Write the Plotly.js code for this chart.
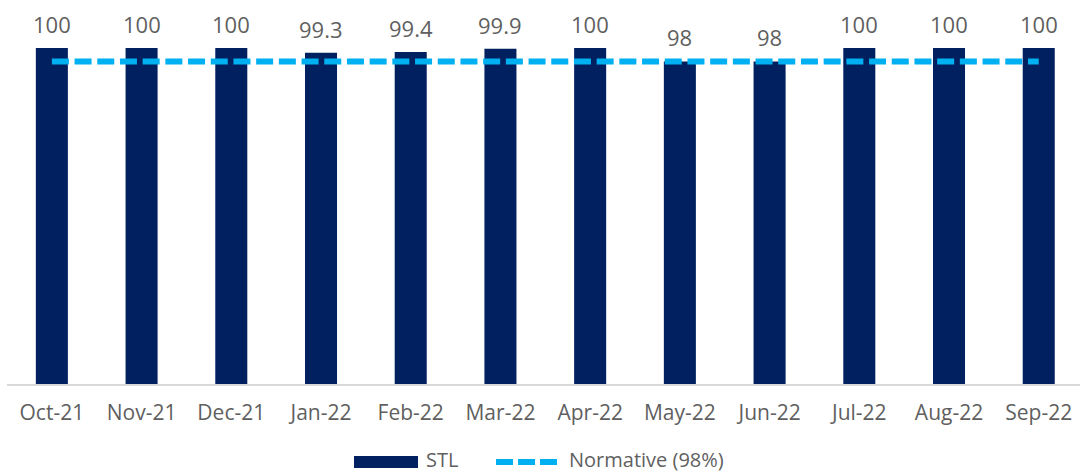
<!DOCTYPE html>
<html>
<head>
<meta charset="utf-8">
<script src="https://cdn.plot.ly/plotly-3.0.1.min.js"></script>
<style>html,body{margin:0;padding:0;background:#fff;}#chart{width:1080px;height:474px;}</style>
</head>
<body>
<div id="chart"></div>
<script>
const categories = ['Oct-21','Nov-21','Dec-21','Jan-22','Feb-22','Mar-22','Apr-22','May-22','Jun-22','Jul-22','Aug-22','Sep-22'];
const stlValues = [100, 100, 100, 99.3, 99.4, 99.9, 100, 98, 98, 100, 100, 100];
const normativeValues = [98, 98, 98, 98, 98, 98, 98, 98, 98, 98, 98, 98];
const stlName = 'STL';
const normativeName = 'Normative (98%)';

const W = 1080, H = 474;
const M = {l: 7, r: 0, t: 48, b: 90};
const plotW = W - M.l - M.r, plotH = H - M.t - M.b;
const px2x = X => (X - M.l) / plotW;
const px2y = Y => (H - M.b - Y) / plotH;

const navy = '#002060';
const cyan = '#00B0F0';
const grey = '#5f5f5f';
const fontFam = '"Open Sans", Roboto, sans-serif';

const traces = [
  {
    type: 'bar', name: stlName, x: categories, y: stlValues,
    marker: {color: navy}, showlegend: false, hoverinfo: 'x+y'
  },
  {
    type: 'scatter', mode: 'lines', name: normativeName, x: categories, y: normativeValues,
    line: {color: cyan, width: 6, dash: '17px,5.7px'}, showlegend: false
  }
];

const annotations = categories.map((c, i) => ({
  x: c, y: stlValues[i], xref: 'x', yref: 'y',
  text: String(stlValues[i]), showarrow: false,
  yanchor: 'bottom', yshift: 7,
  font: {family: fontFam, size: 22, color: grey}
}));

// custom legend
annotations.push({
  xref: 'paper', yref: 'paper', x: px2x(424), y: px2y(459),
  xanchor: 'left', yanchor: 'middle', showarrow: false, text: stlName,
  font: {family: fontFam, size: 20, color: grey}
});
annotations.push({
  xref: 'paper', yref: 'paper', x: px2x(567), y: px2y(459),
  xanchor: 'left', yanchor: 'middle', showarrow: false, text: normativeName,
  font: {family: fontFam, size: 20, color: grey}
});

const shapes = [
  {type: 'rect', xref: 'paper', yref: 'paper',
   x0: px2x(354), x1: px2x(418), y0: px2y(468), y1: px2y(456),
   fillcolor: navy, line: {width: 0}},
  {type: 'line', xref: 'paper', yref: 'paper',
   x0: px2x(496), x1: px2x(558), y0: px2y(462), y1: px2y(462),
   line: {color: cyan, width: 6, dash: '17px,5px'}}
];

const layout = {
  width: W, height: H,
  margin: M,
  paper_bgcolor: '#ffffff', plot_bgcolor: '#ffffff',
  bargap: 0.643,
  showlegend: false,
  xaxis: {
    type: 'category', range: [-0.5, 11.46],
    showgrid: false, zeroline: false,
    showline: true, linecolor: '#D9D9D9', linewidth: 2,
    ticks: '', ticklabelstandoff: 9,
    tickfont: {family: fontFam, size: 21, color: grey},
    fixedrange: true
  },
  yaxis: {
    range: [50, 100], showgrid: false, zeroline: false,
    showline: false, showticklabels: false, ticks: '', fixedrange: true
  },
  annotations: annotations,
  shapes: shapes
};

Plotly.newPlot('chart', traces, layout, {displayModeBar: false, staticPlot: true});
</script>
</body>
</html>
